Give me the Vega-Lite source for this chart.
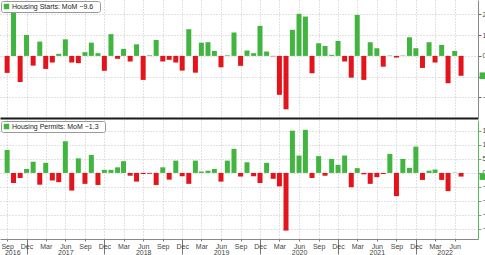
{
  "$schema": "https://vega.github.io/schema/vega-lite/v6.json",
  "padding": 0,
  "background": "white",
  "spacing": 2,
  "config": {
    "view": {"stroke": null},
    "font": "Liberation Sans",
    "axis": {"labelFont": "Liberation Sans", "labelFontSize": 7, "labelColor": "#444", "gridColor": "#c4c4c4", "gridDash": [1, 2], "gridWidth": 1, "title": null},
    "legend": {"orient": "top-left", "title": null, "offset": 1, "padding": 2, "fillColor": "white", "strokeColor": "#999", "cornerRadius": 2, "symbolType": "square", "symbolSize": 30, "symbolStrokeWidth": 0, "labelFontSize": 7, "labelFont": "Liberation Sans", "labelColor": "#222", "labelOffset": 2, "rowPadding": 0}
  },
  "datasets": {
    "starts": [
      {"date": "2016-09-01", "value": -8.2}, {"date": "2016-10-01", "value": 26}, {"date": "2016-11-01", "value": -12.6}, {"date": "2016-12-01", "value": 10.1},
      {"date": "2017-01-01", "value": -4.7}, {"date": "2017-02-01", "value": 6.9}, {"date": "2017-03-01", "value": -6.3}, {"date": "2017-04-01", "value": -3.2},
      {"date": "2017-05-01", "value": 1.0}, {"date": "2017-06-01", "value": 8.0}, {"date": "2017-07-01", "value": -3.2}, {"date": "2017-08-01", "value": -3.5},
      {"date": "2017-09-01", "value": 1.8}, {"date": "2017-10-01", "value": 6.4}, {"date": "2017-11-01", "value": 1.3}, {"date": "2017-12-01", "value": -7.2},
      {"date": "2018-01-01", "value": 10.5}, {"date": "2018-02-01", "value": -1.4}, {"date": "2018-03-01", "value": 3.4}, {"date": "2018-04-01", "value": -2.7},
      {"date": "2018-05-01", "value": 5.6}, {"date": "2018-06-01", "value": -11.6}, {"date": "2018-07-01", "value": 0.3}, {"date": "2018-08-01", "value": 7.7},
      {"date": "2018-09-01", "value": -2.7}, {"date": "2018-10-01", "value": -1.9}, {"date": "2018-11-01", "value": -3.2}, {"date": "2018-12-01", "value": -7.1},
      {"date": "2019-01-01", "value": 12.9}, {"date": "2019-02-01", "value": -8.1}, {"date": "2019-03-01", "value": 6.4}, {"date": "2019-04-01", "value": 6.6},
      {"date": "2019-05-01", "value": 2.4}, {"date": "2019-06-01", "value": -5.5}, {"date": "2019-07-01", "value": 0.3}, {"date": "2019-08-01", "value": 11.3},
      {"date": "2019-09-01", "value": -4.8}, {"date": "2019-10-01", "value": 2.6}, {"date": "2019-11-01", "value": 1.3}, {"date": "2019-12-01", "value": 14.5},
      {"date": "2020-01-01", "value": 2.1}, {"date": "2020-02-01", "value": -0.2}, {"date": "2020-03-01", "value": -18.8}, {"date": "2020-04-01", "value": -25.8},
      {"date": "2020-05-01", "value": 12.6}, {"date": "2020-06-01", "value": 20.3}, {"date": "2020-07-01", "value": 19.0}, {"date": "2020-08-01", "value": -8.4},
      {"date": "2020-09-01", "value": 6.1}, {"date": "2020-10-01", "value": 4.8}, {"date": "2020-11-01", "value": 0.5}, {"date": "2020-12-01", "value": 7.2},
      {"date": "2021-01-01", "value": -2.7}, {"date": "2021-02-01", "value": -10.5}, {"date": "2021-03-01", "value": 19.8}, {"date": "2021-04-01", "value": -11.6},
      {"date": "2021-05-01", "value": 6.6}, {"date": "2021-06-01", "value": 3.7}, {"date": "2021-07-01", "value": -5.2}, {"date": "2021-08-01", "value": 0.2},
      {"date": "2021-09-01", "value": -0.8}, {"date": "2021-10-01", "value": 0.2}, {"date": "2021-11-01", "value": 9.0}, {"date": "2021-12-01", "value": 3.7},
      {"date": "2022-01-01", "value": -5.8}, {"date": "2022-02-01", "value": 6.6}, {"date": "2022-03-01", "value": -3.2}, {"date": "2022-04-01", "value": 5.3},
      {"date": "2022-05-01", "value": -13.2}, {"date": "2022-06-01", "value": 2.4}, {"date": "2022-07-01", "value": -9.6}
    ],
    "permits": [
      {"date": "2016-09-01", "value": 8.2}, {"date": "2016-10-01", "value": -3.6}, {"date": "2016-11-01", "value": -1.8}, {"date": "2016-12-01", "value": 1.4},
      {"date": "2017-01-01", "value": 4.0}, {"date": "2017-02-01", "value": -4.2}, {"date": "2017-03-01", "value": 3.6}, {"date": "2017-04-01", "value": -2.7},
      {"date": "2017-05-01", "value": -3.3}, {"date": "2017-06-01", "value": 11.3}, {"date": "2017-07-01", "value": -6.3}, {"date": "2017-08-01", "value": 5.2},
      {"date": "2017-09-01", "value": -3.9}, {"date": "2017-10-01", "value": 6.4}, {"date": "2017-11-01", "value": -4.3}, {"date": "2017-12-01", "value": 1.1},
      {"date": "2018-01-01", "value": 1.1}, {"date": "2018-02-01", "value": 2.0}, {"date": "2018-03-01", "value": 4.2}, {"date": "2018-04-01", "value": -1.0},
      {"date": "2018-05-01", "value": -3.1}, {"date": "2018-06-01", "value": -0.4}, {"date": "2018-07-01", "value": -0.3}, {"date": "2018-08-01", "value": -4.3},
      {"date": "2018-09-01", "value": 2.0}, {"date": "2018-10-01", "value": -2.4}, {"date": "2018-11-01", "value": 4.4}, {"date": "2018-12-01", "value": -1.2},
      {"date": "2019-01-01", "value": -3.9}, {"date": "2019-02-01", "value": 4.4}, {"date": "2019-03-01", "value": 0.5}, {"date": "2019-04-01", "value": 0.8},
      {"date": "2019-05-01", "value": 1.4}, {"date": "2019-06-01", "value": -3.1}, {"date": "2019-07-01", "value": 4.4}, {"date": "2019-08-01", "value": 8.6},
      {"date": "2019-09-01", "value": -1.3}, {"date": "2019-10-01", "value": 3.8}, {"date": "2019-11-01", "value": -1.2}, {"date": "2019-12-01", "value": -3.6},
      {"date": "2020-01-01", "value": 3.6}, {"date": "2020-02-01", "value": -2.1}, {"date": "2020-03-01", "value": -4.8}, {"date": "2020-04-01", "value": -20.6},
      {"date": "2020-05-01", "value": 15.1}, {"date": "2020-06-01", "value": 6.2}, {"date": "2020-07-01", "value": 15.4}, {"date": "2020-08-01", "value": -1.8},
      {"date": "2020-09-01", "value": 6.0}, {"date": "2020-10-01", "value": -1.0}, {"date": "2020-11-01", "value": 5.0}, {"date": "2020-12-01", "value": 2.9},
      {"date": "2021-01-01", "value": 6.2}, {"date": "2021-02-01", "value": -5.1}, {"date": "2021-03-01", "value": 1.7}, {"date": "2021-04-01", "value": -0.5},
      {"date": "2021-05-01", "value": -3.9}, {"date": "2021-06-01", "value": -1.5}, {"date": "2021-07-01", "value": -0.4}, {"date": "2021-08-01", "value": 6.8},
      {"date": "2021-09-01", "value": -8.3}, {"date": "2021-10-01", "value": 5.0}, {"date": "2021-11-01", "value": 1.8}, {"date": "2021-12-01", "value": 9.4},
      {"date": "2022-01-01", "value": -2.5}, {"date": "2022-02-01", "value": 0.8}, {"date": "2022-03-01", "value": 1.2}, {"date": "2022-04-01", "value": -2.5},
      {"date": "2022-05-01", "value": -6.5}, {"date": "2022-06-01", "value": 0.1}, {"date": "2022-07-01", "value": -1.3}
    ]
  },
  "vconcat": [
    {
      "width": 478,
      "height": 118,
      "data": {"name": "starts"},
      "encoding": {
        "x": {"field": "date", "type": "temporal", "scale": {"domain": [{"year": 2016, "month": 8, "date": 22}, {"year": 2022, "month": 8, "date": 26}]}},
        "y": {"field": "value", "type": "quantitative", "scale": {"domain": [-30, 27], "nice": false, "zero": false},
              "axis": {"orient": "right", "values": [-20, -10, 0, 10, 20], "grid": true, "domainColor": "#888", "tickColor": "#666", "tickSize": 3, "labelPadding": 1}}
      },
      "layer": [
        {
          "transform": [{"filter": "datum.value >= 0"}],
          "mark": {"type": "bar", "color": "#41b53f", "size": 5},
          "encoding": {"x": {"field": "date", "type": "temporal", "axis": {"orient": "bottom", "values": [
            {"year": 2016, "month": 9, "date": 1}, {"year": 2016, "month": 12, "date": 1},
            {"year": 2017, "month": 3, "date": 1}, {"year": 2017, "month": 6, "date": 1}, {"year": 2017, "month": 9, "date": 1}, {"year": 2017, "month": 12, "date": 1},
            {"year": 2018, "month": 3, "date": 1}, {"year": 2018, "month": 6, "date": 1}, {"year": 2018, "month": 9, "date": 1}, {"year": 2018, "month": 12, "date": 1},
            {"year": 2019, "month": 3, "date": 1}, {"year": 2019, "month": 6, "date": 1}, {"year": 2019, "month": 9, "date": 1}, {"year": 2019, "month": 12, "date": 1},
            {"year": 2020, "month": 3, "date": 1}, {"year": 2020, "month": 6, "date": 1}, {"year": 2020, "month": 9, "date": 1}, {"year": 2020, "month": 12, "date": 1},
            {"year": 2021, "month": 3, "date": 1}, {"year": 2021, "month": 6, "date": 1}, {"year": 2021, "month": 9, "date": 1}, {"year": 2021, "month": 12, "date": 1},
            {"year": 2022, "month": 3, "date": 1}, {"year": 2022, "month": 6, "date": 1}],
            "grid": true, "labels": false, "ticks": false, "domain": true, "domainColor": "#1a1a1a", "domainWidth": 2}}}
        },
        {
          "transform": [{"filter": "datum.value < 0"}],
          "mark": {"type": "bar", "color": "#e3141b", "size": 5},
          "encoding": {"x": {"field": "date", "type": "temporal", "axis": null}}
        },
        {
          "transform": [
            {"window": [{"op": "row_number", "as": "rn"}], "sort": [{"field": "date", "order": "descending"}]},
            {"filter": "datum.rn == 1"},
            {"calculate": "'Housing Starts: MoM   ' + format(datum.value, '.1f')", "as": "label"}
          ],
          "mark": {"type": "point", "shape": "square", "filled": true, "size": 45, "xOffset": 5, "opacity": 1},
          "encoding": {
            "x": {"value": "width"},
            "color": {"field": "label", "type": "nominal", "scale": {"range": ["#41b53f"]}}
          }
        }
      ],
      "resolve": {"axis": {"x": "independent"}}
    },
    {
      "width": 478,
      "height": 119,
      "data": {"name": "permits"},
      "encoding": {
        "x": {"field": "date", "type": "temporal", "scale": {"domain": [{"year": 2016, "month": 8, "date": 22}, {"year": 2022, "month": 8, "date": 26}]}},
        "y": {"field": "value", "type": "quantitative", "scale": {"domain": [-23.6, 18.9], "nice": false, "zero": false},
              "axis": {"orient": "right", "values": [-20, -15, -10, -5, 0, 5, 10, 15], "grid": true, "domainColor": "#5cb85c", "tickColor": "#5cb85c", "tickSize": 3, "labelPadding": 1}}
      },
      "layer": [
        {
          "transform": [{"filter": "datum.value >= 0"}],
          "mark": {"type": "bar", "color": "#41b53f", "size": 5},
          "encoding": {"x": {"field": "date", "type": "temporal", "axis": {"orient": "bottom", "values": [
            {"year": 2016, "month": 9, "date": 1}, {"year": 2016, "month": 12, "date": 1},
            {"year": 2017, "month": 3, "date": 1}, {"year": 2017, "month": 6, "date": 1}, {"year": 2017, "month": 9, "date": 1}, {"year": 2017, "month": 12, "date": 1},
            {"year": 2018, "month": 3, "date": 1}, {"year": 2018, "month": 6, "date": 1}, {"year": 2018, "month": 9, "date": 1}, {"year": 2018, "month": 12, "date": 1},
            {"year": 2019, "month": 3, "date": 1}, {"year": 2019, "month": 6, "date": 1}, {"year": 2019, "month": 9, "date": 1}, {"year": 2019, "month": 12, "date": 1},
            {"year": 2020, "month": 3, "date": 1}, {"year": 2020, "month": 6, "date": 1}, {"year": 2020, "month": 9, "date": 1}, {"year": 2020, "month": 12, "date": 1},
            {"year": 2021, "month": 3, "date": 1}, {"year": 2021, "month": 6, "date": 1}, {"year": 2021, "month": 9, "date": 1}, {"year": 2021, "month": 12, "date": 1},
            {"year": 2022, "month": 3, "date": 1}, {"year": 2022, "month": 6, "date": 1}],
            "format": "%b", "grid": true, "labelFlush": 5, "labelOverlap": false,
            "labelPadding": {"condition": {"test": "month(datum.value) == 11", "value": -12}, "value": 1},
            "domainColor": "#888", "tickColor": "#777",
            "tickSize": {"condition": {"test": "month(datum.value) == 11", "value": 15}, "value": 2}}}}
        },
        {
          "transform": [{"filter": "datum.value < 0"}],
          "mark": {"type": "bar", "color": "#e3141b", "size": 5},
          "encoding": {"x": {"field": "date", "type": "temporal", "axis": {"orient": "bottom", "values": [
            {"year": 2016, "month": 9, "date": 25}, {"year": 2017, "month": 6, "date": 1}, {"year": 2018, "month": 6, "date": 1},
            {"year": 2019, "month": 6, "date": 1}, {"year": 2020, "month": 6, "date": 1}, {"year": 2021, "month": 6, "date": 1}, {"year": 2022, "month": 4, "date": 15}],
            "format": "%Y", "grid": false, "ticks": false, "domain": false, "labelPadding": 9, "labelOverlap": false, "labelFlush": false}}}
        },
        {
          "transform": [
            {"window": [{"op": "row_number", "as": "rn"}], "sort": [{"field": "date", "order": "descending"}]},
            {"filter": "datum.rn == 1"},
            {"calculate": "'Housing Permits: MoM   ' + format(datum.value, '.1f')", "as": "label"}
          ],
          "mark": {"type": "point", "shape": "square", "filled": true, "size": 45, "xOffset": 5, "opacity": 1},
          "encoding": {
            "x": {"value": "width"},
            "color": {"field": "label", "type": "nominal", "scale": {"range": ["#41b53f"]}}
          }
        }
      ],
      "resolve": {"axis": {"x": "independent"}}
    }
  ],
  "resolve": {"scale": {"x": "independent", "y": "independent", "color": "independent"}, "legend": {"color": "independent"}}
}
